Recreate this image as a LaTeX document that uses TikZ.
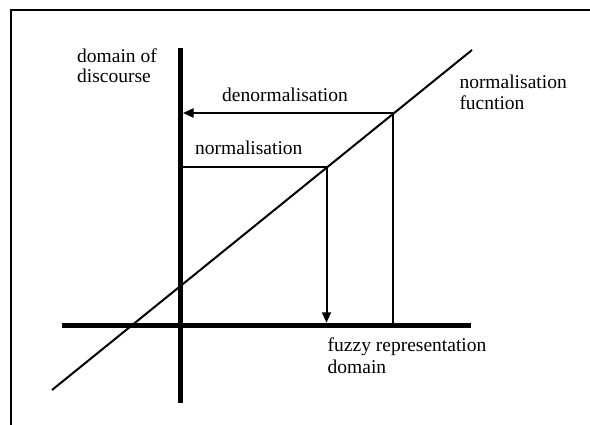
\documentclass[tikz,border=0pt]{standalone}
\usepackage{fontspec}
\setmainfont{Liberation Serif}
\usetikzlibrary{arrows.meta}
\begin{document}
\begin{tikzpicture}[x=1pt,y=-1pt,
  lbl/.style={anchor=base west,inner sep=0pt,font=\fontsize{19.5}{21.5}\selectfont},
  frameline/.style={line width=2.2pt},
  axis/.style={line width=5pt},
  thin/.style={line width=2pt},
  arr/.style={thin,-{Triangle[length=10.5pt,width=9pt]}}]
\useasboundingbox (0,0) rectangle (590,425);
% frame
\coordinate (fl) at (11,425);
\coordinate (ftl) at (11,10);
\coordinate (ftr) at (590,10);
\draw[frameline,line cap=rect] (fl) -- (ftl) -- (ftr);
% axes
\coordinate (vt) at (180.5,48);
\coordinate (vb) at (180.5,403);
\coordinate (hl) at (62,325.3);
\coordinate (hr) at (471,325.3);
\draw[axis] (vt) -- (vb);
\draw[axis] (hl) -- (hr);
% normalisation function
\coordinate (d1) at (52,390);
\coordinate (d2) at (472,50);
\draw[thin] (d1) -- (d2);
% denormalisation
\coordinate (dnr) at (392.5,113);
\coordinate (dnl) at (183,113);
\coordinate (dnb) at (392.5,323);
\draw[arr] (dnr) -- (dnl);
\draw[thin] (dnr) -- (dnb);
% normalisation
\coordinate (nl) at (180.5,167);
\coordinate (nr) at (326.5,167);
\coordinate (nb) at (326.5,322.8);
\draw[thin] (nl) -- (nr);
\draw[arr] (nr) -- (nb);
% labels
\node[lbl] (dd1) at (77,62.7) {domain of};
\node[lbl] (dd2) at (77,83) {discourse};
\node[lbl] (nf1) at (459.3,88.3) {normalisation};
\node[lbl] (nf2) at (459.3,109.5) {fucntion};
\node[lbl] (den) at (222,101.7) {denormalisation};
\node[lbl] (nor) at (195,155) {normalisation};
\node[lbl] (fz1) at (327.5,351.7) {fuzzy representation};
\node[lbl] (fz2) at (327.5,373.5) {domain};
\end{tikzpicture}
\end{document}
